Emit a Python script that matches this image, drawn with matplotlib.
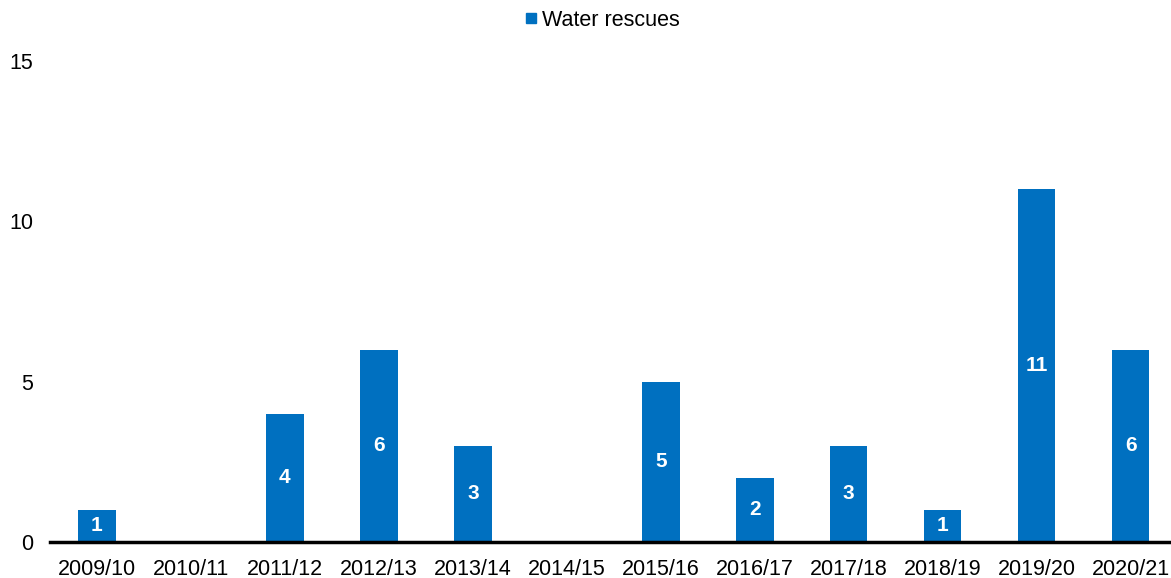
import matplotlib
matplotlib.use("Agg")
import matplotlib.pyplot as plt
from matplotlib.lines import Line2D

years = ["2009/10", "2010/11", "2011/12", "2012/13", "2013/14", "2014/15",
         "2015/16", "2016/17", "2017/18", "2018/19", "2019/20", "2020/21"]
rescues = [1, 0, 4, 6, 3, 0, 5, 2, 3, 1, 11, 6]
yticks = [0, 5, 10, 15]

BLUE = "#0070C0"
plt.rcParams["font.family"] = ["Liberation Sans", "DejaVu Sans"]

fig = plt.figure(figsize=(11.71, 5.78), dpi=100)
ax = fig.add_axes([50 / 1171, 36 / 578, 1121 / 1171, 481 / 578])

x = list(range(len(years)))
ax.bar(x, rescues, width=0.40, color=BLUE, zorder=2)
for xi, v in zip(x, rescues):
    if v > 0:
        ax.text(xi, v / 2, str(v), ha="center", va="center", color="white",
                fontsize=15, fontweight="bold")

ax.set_xlim(-0.5, 11.43)
ax.set_ylim(0, 15)
ax.set_xticks(x)
ax.set_xticklabels(years, fontsize=15.5)
ax.set_yticks(yticks)
ax.set_yticklabels([str(t) for t in yticks], fontsize=15.5)
ax.tick_params(axis="both", length=0)
ax.tick_params(axis="y", pad=12)
ax.tick_params(axis="x", pad=12)
for s in ["top", "right", "left"]:
    ax.spines[s].set_visible(False)
ax.spines["bottom"].set_linewidth(2.5)
ax.spines["bottom"].set_color("black")
ax.spines["bottom"].set_zorder(3)

handle = Line2D([], [], marker="s", linestyle="none", color=BLUE, markersize=6.5)
fig.legend([handle], ["Water rescues"], loc="center", bbox_to_anchor=(0.513, 1 - 20 / 578),
           frameon=False, fontsize=15.5, handletextpad=0.12, handlelength=0.8)

fig.savefig("out.png", dpi=100)
